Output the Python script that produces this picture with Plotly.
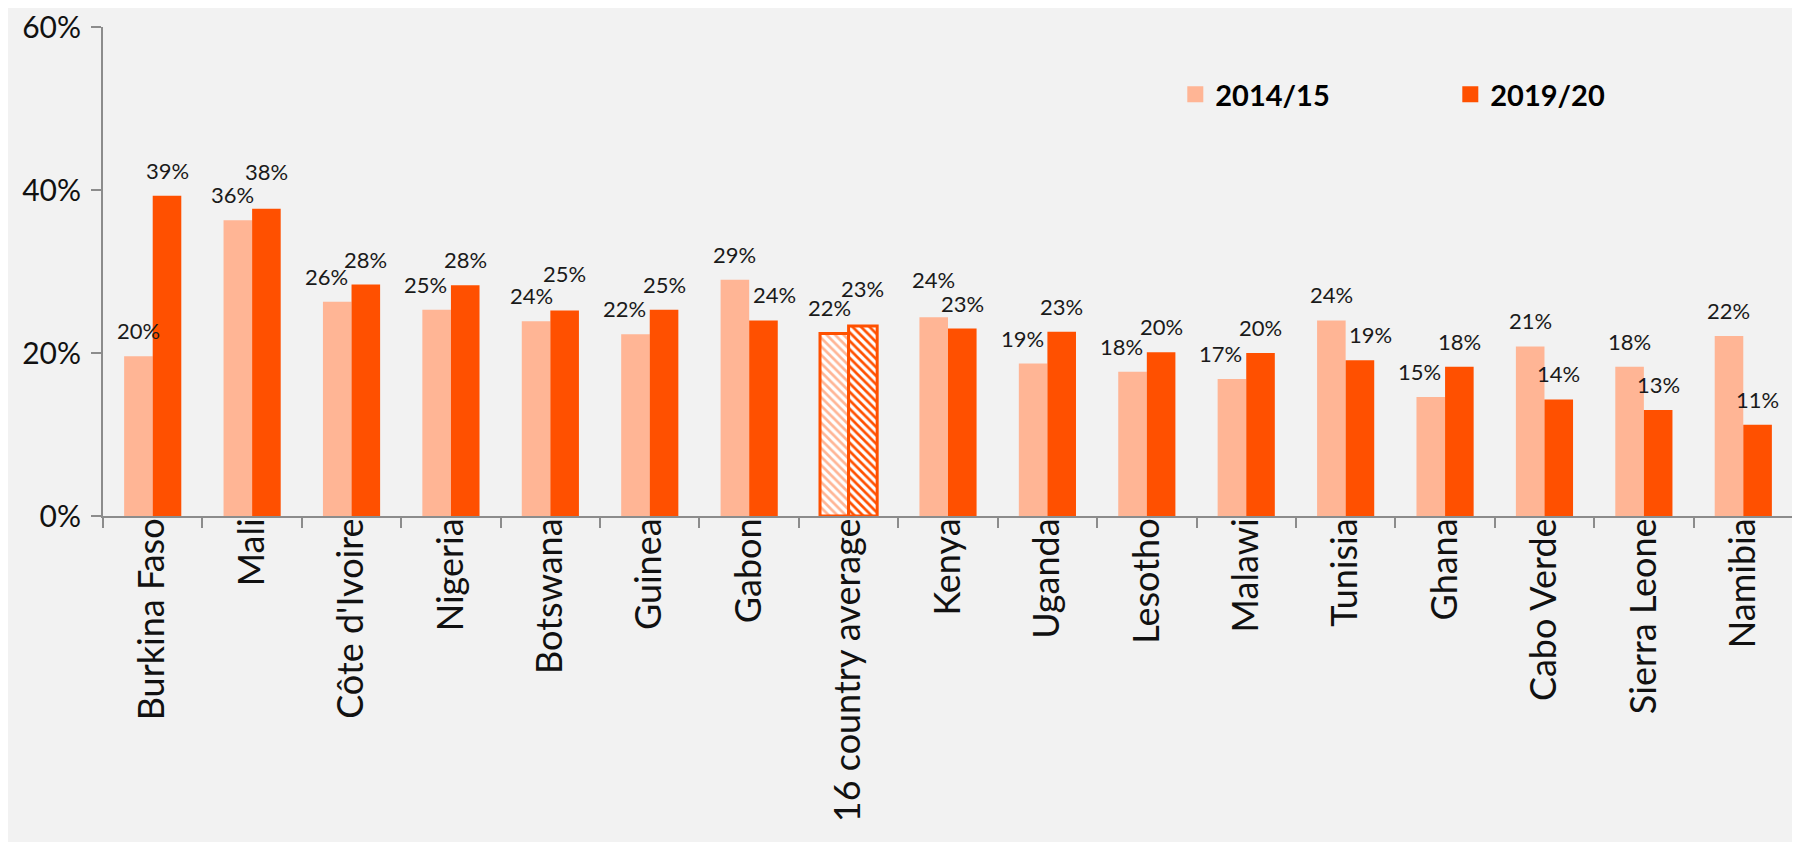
import plotly.graph_objects as go

categories = ["Burkina Faso", "Mali", "Côte d'Ivoire", "Nigeria", "Botswana", "Guinea",
              "Gabon", "16 country average", "Kenya", "Uganda", "Lesotho", "Malawi",
              "Tunisia", "Ghana", "Cabo Verde", "Sierra Leone", "Namibia"]
series_names = ["2014/15", "2019/20"]
values_2014 = [0.196, 0.363, 0.263, 0.253, 0.239, 0.223, 0.290, 0.224, 0.244, 0.187,
               0.177, 0.168, 0.240, 0.146, 0.208, 0.183, 0.221]
values_2019 = [0.393, 0.377, 0.284, 0.283, 0.252, 0.253, 0.240, 0.233, 0.230, 0.226,
               0.201, 0.200, 0.191, 0.183, 0.143, 0.130, 0.112]
y_ticks = [0, 0.2, 0.4, 0.6]
y_tick_labels = ["0%", "20%", "40%", "60%"]
highlight = "16 country average"

C14 = "#FFB595"
C19 = "#FF5000"
AX = "#8C8C8C"
BG = "#F2F2F2"
FONT = "Lato"

W, H = 1800, 842
ML, MR, MT, MB = 95, 15, 19, 334
BARGAP = 0.425
cat_px = (W - ML - MR) / len(categories)
bar_px = cat_px * (1 - BARGAP) / 2


def bar_trace(name, vals, color):
    shapes = ["\\" if c == highlight else "" for c in categories]
    lw = [3 if c == highlight else 0 for c in categories]
    return go.Bar(
        name=name, x=categories, y=vals, showlegend=False,
        marker=dict(color=color,
                    line=dict(color=C19, width=lw),
                    pattern=dict(shape=shapes, fgcolor=color, bgcolor="white",
                                 size=6, solidity=0.45, fillmode="replace")),
        hoverinfo="skip",
    )


fig = go.Figure()
fig.add_trace(bar_trace(series_names[0], values_2014, C14))
fig.add_trace(bar_trace(series_names[1], values_2019, C19))

# legend entries (square markers)
for nm, col in zip(series_names, [C14, C19]):
    fig.add_trace(go.Scatter(x=[None], y=[None], mode="markers", name=nm,
                             marker=dict(symbol="square", size=18, color=col)))

# data labels, nudged apart where neighbouring labels would collide
BASE = 10
annotations = []
for i, c in enumerate(categories):
    a, b = values_2014[i], values_2019[i]
    d = b - a
    sh_a = sh_b = 0
    ys_a = ys_b = BASE
    if 0.02 <= d < 0.04:
        sh_a = -11
    elif 0 < d < 0.02:
        sh_a = -5
    if 0.015 < -d < 0.051:
        sh_b = 11
    if abs(d) < 0.02:
        if d > 0:
            ys_b += 12
        else:
            ys_a += 12
    annotations.append(dict(x=c, y=a, xref="x", yref="y", text=f"{a:.0%}",
                            showarrow=False, yanchor="bottom",
                            xshift=-bar_px / 2 + sh_a, yshift=ys_a,
                            font=dict(family=FONT, size=22, color="#1a1a1a")))
    annotations.append(dict(x=c, y=b, xref="x", yref="y", text=f"{b:.0%}",
                            showarrow=False, yanchor="bottom",
                            xshift=bar_px / 2 + sh_b, yshift=ys_b,
                            font=dict(family=FONT, size=22, color="#1a1a1a")))

fig.update_layout(
    width=W, height=H,
    margin=dict(l=ML, r=MR, t=MT, b=MB, autoexpand=False),
    paper_bgcolor=BG, plot_bgcolor=BG,
    barmode="group", bargap=BARGAP, bargroupgap=0,
    font=dict(family=FONT, color="#111111"),
    annotations=annotations,
    showlegend=True,
    legend=dict(orientation="h", x=0.6345, xanchor="left", y=0.862, yanchor="middle",
                bgcolor="rgba(0,0,0,0)", entrywidth=230, entrywidthmode="pixels",
                font=dict(family=FONT, size=29, weight="bold", color="#000000"),
                itemclick=False),
    xaxis=dict(type="category", showline=True, linecolor=AX, linewidth=2,
               ticks="outside", tickson="boundaries", ticklen=10, tickwidth=2,
               tickcolor=AX, tickangle=-90, ticklabelstandoff=-14,
               ticklabeloverflow="allow",
               tickfont=dict(family=FONT, size=36, color="#111111"),
               showgrid=False, zeroline=False),
    yaxis=dict(range=[0, 0.6], tickvals=y_ticks, ticktext=y_tick_labels,
               showline=True, linecolor=AX, linewidth=2,
               ticks="outside", ticklen=10, tickwidth=2, tickcolor=AX,
               ticklabelstandoff=4, ticklabeloverflow="allow",
               tickfont=dict(family=FONT, size=30, color="#111111"),
               showgrid=False, zeroline=False),
)

fig.write_html("out.html")
